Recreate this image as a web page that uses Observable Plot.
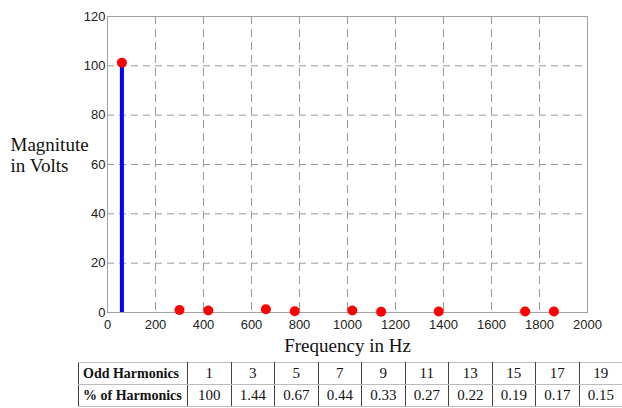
<!DOCTYPE html>
<html>
<head>
<meta charset="utf-8">
<script src="https://cdn.jsdelivr.net/npm/d3@7"></script>
<script src="https://cdn.jsdelivr.net/npm/@observablehq/plot@0.6"></script>
<style>
  html, body { margin: 0; padding: 0; background: #fff; }
  #chart svg { display: block; }
  table.harm {
    margin-left: 78px; margin-top: 2px;
    border-collapse: collapse; table-layout: fixed; width: 544px;
    font-family: "Liberation Serif", "Times New Roman", serif; font-size: 15px; color: #111;
  }
  table.harm td {
    height: 21px; padding: 0; text-align: center;
    border-left: 1px solid #444; border-right: 1px solid #444;
    border-top: 1px solid #bbb; border-bottom: 1px solid #bbb;
    white-space: nowrap; overflow: hidden;
  }
  table.harm td.head { text-align: left; padding-left: 4px; font-weight: bold; font-size: 14px; }
</style>
</head>
<body>
<div id="chart"></div>
<div id="tbl"></div>
<script>
const freqs = [60, 300, 420, 660, 780, 1020, 1140, 1380, 1740, 1860];
const mags = [101.3, 1.0, 0.8, 1.3, 0.5, 0.8, 0.3, 0.4, 0.4, 0.4];
const xTicks = [0, 200, 400, 600, 800, 1000, 1200, 1400, 1600, 1800, 2000];
const yTicks = [0, 20, 40, 60, 80, 100, 120];
const harmonics = ["1", "3", "5", "7", "9", "11", "13", "15", "17", "19"];
const percents = ["100", "1.44", "0.67", "0.44", "0.33", "0.27", "0.22", "0.19", "0.17", "0.15"];
const rowLabels = ["Odd Harmonics", "% of Harmonics"];

const data = freqs.map((f, i) => ({f, m: mags[i]}));
const serif = "Liberation Serif, Times New Roman, serif";

const chart = Plot.plot({
  width: 622, height: 360,
  marginLeft: 107, marginRight: 35, marginTop: 16, marginBottom: 48,
  style: {fontFamily: "Liberation Sans, Arial, sans-serif", fontSize: "13px", color: "#222", background: "white"},
  x: {domain: [0, 2000]},
  y: {domain: [0, 120]},
  marks: [
    Plot.gridX(xTicks, {stroke: "#999", strokeOpacity: 1, strokeDasharray: "8,5"}),
    Plot.gridY(yTicks, {stroke: "#999", strokeOpacity: 1, strokeDasharray: "7,5"}),
    Plot.frame({stroke: "#a0a0a0"}),
    Plot.axisX(xTicks, {tickSize: 0, tickPadding: 7, label: null, tickFormat: d => String(d)}),
    Plot.axisY(yTicks, {tickSize: 0, tickPadding: 2, label: null, tickFormat: d => String(d)}),
    Plot.ruleX(data, {x: "f", y1: 0, y2: "m", stroke: "#0000ff", strokeWidth: 4}),
    Plot.dot(data, {x: "f", y: "m", r: 5, fill: "#ff0000", stroke: "none"}),
    Plot.text(["Magnitute\nin Volts"], {text: d => d, frameAnchor: "left", dx: -97, dy: -10, textAnchor: "start", fontFamily: serif, fontSize: 19, lineHeight: 1.15, fill: "#111"}),
    Plot.text(["Frequency in Hz"], {text: d => d, frameAnchor: "bottom", dy: 39, fontFamily: serif, fontSize: 19, fill: "#111"})
  ]
});
document.getElementById("chart").append(chart);

// table
const table = document.createElement("table");
table.className = "harm";
const cg = document.createElement("colgroup");
const c0 = document.createElement("col"); c0.style.width = "109px"; cg.append(c0);
harmonics.forEach(() => { const c = document.createElement("col"); c.style.width = "43.5px"; cg.append(c); });
table.append(cg);
[harmonics, percents].forEach((row, r) => {
  const tr = document.createElement("tr");
  const th = document.createElement("td"); th.className = "head"; th.textContent = rowLabels[r]; tr.append(th);
  row.forEach(v => { const td = document.createElement("td"); td.textContent = v; tr.append(td); });
  table.append(tr);
});
document.getElementById("tbl").append(table);
</script>
</body>
</html>
